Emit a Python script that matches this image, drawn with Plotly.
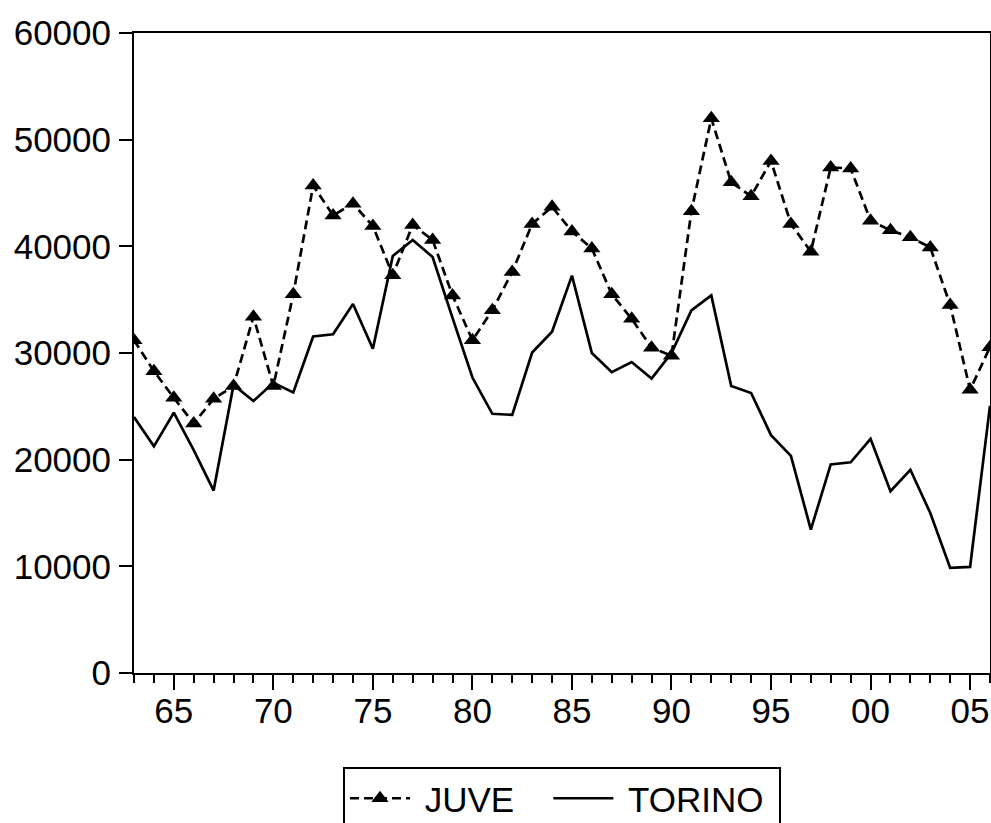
import plotly.graph_objects as go

years = list(range(1963, 2007))

juve = [31200, 28300, 25800, 23400, 25700, 26900, 33400, 26900, 35500, 45700,
        42900, 44000, 41900, 37300, 42000, 40600, 35400, 31200, 34000, 37600,
        42100, 43700, 41400, 39800, 35500, 33200, 30500, 29750, 43300, 52000,
        46000, 44700, 48000, 42100, 39500, 47400, 47300, 42400, 41500, 40850,
        39900, 34500, 26550, 30550]

torino = [24000, 21250, 24400, 20900, 17100, 27000, 25500, 27200, 26300, 31550,
          31750, 34600, 30400, 39100, 40600, 39000, 33300, 27700, 24300, 24200,
          30050, 32000, 37250, 30000, 28200, 29150, 27600, 30000, 34000, 35400,
          26900, 26250, 22300, 20350, 13450, 19550, 19750, 21950, 17050, 19050,
          15000, 9850, 9950, 25050]

x_tickvals = [1965, 1970, 1975, 1980, 1985, 1990, 1995, 2000, 2005]
x_ticktext = ["65", "70", "75", "80", "85", "90", "95", "00", "05"]

FONT = "Liberation Sans, Arial, sans-serif"
NB = "\u00a0"

fig = go.Figure()
fig.add_trace(go.Scatter(
    x=years, y=juve, name=NB + "JUVE" + NB * 3, mode="lines+markers",
    line=dict(color="black", width=2.7, dash="9px,5px"),
    marker=dict(symbol="triangle-up", size=15, color="black"),
))
fig.add_trace(go.Scatter(
    x=years, y=torino, name=NB + "TORINO" + NB, mode="lines",
    line=dict(color="black", width=2.7),
))

fig.update_layout(
    width=991, height=823,
    margin=dict(l=134, r=1, t=33, b=150),
    paper_bgcolor="white", plot_bgcolor="white",
    font=dict(family=FONT, size=35, color="black"),
    showlegend=True,
    legend=dict(
        orientation="h", x=0.5, xanchor="center",
        yref="container", y=1 - 767 / 823, yanchor="top",
        bordercolor="black", borderwidth=2, itemwidth=60,
        font=dict(family=FONT, size=35, color="black"),
        itemclick=False,
    ),
    xaxis=dict(
        range=[1963, 2006], tickmode="array", tickvals=x_tickvals, ticktext=x_ticktext,
        ticks="outside", ticklen=15, tickwidth=2, tickcolor="black",
        showline=True, linecolor="black", linewidth=2, mirror=True,
        showgrid=False, zeroline=False, automargin=False,
        minor=dict(tickmode="linear", tick0=1963, dtick=1, ticks="outside",
                   ticklen=8, tickwidth=2, tickcolor="black", showgrid=False),
        tickfont=dict(family=FONT, size=35, color="black"),
        ticklabelstandoff=-9,
    ),
    yaxis=dict(
        range=[0, 60000], tickmode="linear", tick0=0, dtick=10000, tickformat="d",
        ticks="outside", ticklen=13, tickwidth=2, tickcolor="black",
        showline=True, linecolor="black", linewidth=2, mirror=True,
        showgrid=False, zeroline=False, automargin=False,
        tickfont=dict(family=FONT, size=35, color="black"),
        ticklabelstandoff=1,
    ),
)

fig.write_html(
    "out.html",
    config={"displayModeBar": False},
    post_script=(
        "document.documentElement.style.margin='0';"
        "document.documentElement.style.overflow='hidden';"
        "document.body.style.margin='0';"
        "document.body.style.overflow='hidden';"
    ),
)
